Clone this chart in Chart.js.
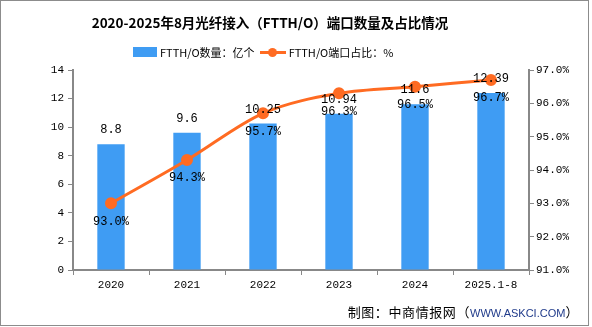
<!DOCTYPE html>
<html>
<head>
<meta charset="utf-8">
<script src="https://cdn.jsdelivr.net/npm/chart.js@4"></script>
<style>
  body { margin: 0; background: #fff; }
  #wrap { position: relative; width: 592px; height: 327px; font-family: "Noto Sans CJK SC", sans-serif; }
  #frame { position: absolute; left: 0; top: 0; width: 589px; height: 326px; box-sizing: border-box; border: 1px solid #8c8c8c; pointer-events: none; }
  #title { position: absolute; left: 0; width: 540px; top: 12px; text-align: center; font-size: 13.5px; font-weight: bold; color: #000; }
  #legend { position: absolute; left: 133px; top: 44px; display: flex; align-items: center; font-size: 11px; color: #000; }
  .box { width: 24px; height: 10px; background: #3f9cf3; margin-right: 3px; }
  .ln { position: relative; width: 26px; height: 3px; background: #ff6b22; margin: 0 3px 0 5px; }
  .ln::after { content: ""; position: absolute; left: 8px; top: -3px; width: 9px; height: 9px; border-radius: 50%; background: #ff6b22; }
  #foot { position: absolute; right: 13px; top: 302px; font-size: 13px; color: #000; letter-spacing: 0.6px; }
  #foot span { color: #1f3a8a; font-family: "Liberation Sans", sans-serif; font-size: 11px; letter-spacing: 0; }
</style>
</head>
<body>
<div id="wrap">
  <canvas id="myChart1" width="592" height="327"></canvas>
  <div id="title">2020-2025年8月光纤接入（FTTH/O）端口数量及占比情况</div>
  <div id="legend"><div class="box"></div>FTTH/O数量：亿个<div class="ln"></div>FTTH/O端口占比：%</div>
  <div id="foot">制图：中商情报网（<span>WWW.ASKCI.COM</span>）</div>
  <div id="frame"></div>
</div>
<script>
var anos = ['2020', '2021', '2022', '2023', '2024', '2025.1-8'];
var portas = [8.8, 9.6, 10.25, 10.94, 11.6, 12.39];
var percentual = [93.0, 94.3, 95.7, 96.3, 96.5, 96.7];

var fonteTick = { family: '"Liberation Mono", "Noto Sans CJK SC", monospace', size: 11 };

// desenha os rotulos dos valores
const rotulos = {
    id: 'rotulos',
    afterDatasetsDraw: function (chart) {
        var ctx = chart.ctx;
        ctx.save();
        ctx.font = '12px "Liberation Mono", monospace';
        ctx.fillStyle = '#000';
        ctx.textAlign = 'center';
        ctx.textBaseline = 'middle';
        chart.getDatasetMeta(0).data.forEach(function (el, i) {
            ctx.fillText(String(portas[i]), el.x, el.y - 14);
        });
        chart.getDatasetMeta(1).data.forEach(function (el, i) {
            ctx.fillText(percentual[i].toFixed(1) + '%', el.x, el.y + 18);
        });
        ctx.restore();
    }
};

const data = {
    labels: anos,
    datasets: [{
        type: 'bar',
        label: 'FTTH/O数量：亿个',
        data: portas,
        backgroundColor: '#3f9cf3',
        barPercentage: 0.36,
        categoryPercentage: 1,
        yAxisID: 'y',
        order: 2
    }, {
        type: 'line',
        label: 'FTTH/O端口占比：%',
        data: percentual,
        borderColor: '#ff6b22',
        backgroundColor: '#ff6b22',
        borderWidth: 3,
        pointRadius: 4.5,
        pointHoverRadius: 4.5,
        cubicInterpolationMode: 'monotone',
        yAxisID: 'y1',
        order: 1
    }]
};

const config = {
    data: data,
    plugins: [rotulos],
    options: {
        responsive: false,
        animation: false,
        layout: { padding: { top: 70, left: 0, right: 0, bottom: 0 } },
        plugins: { legend: { display: false }, tooltip: { enabled: false } },
        scales: {
            x: {
                grid: { display: true, drawOnChartArea: false, color: '#888', tickLength: 5 },
                border: { color: '#888', width: 2 },
                ticks: { font: fonteTick, color: '#000', padding: 3 },
                afterFit: function (s) { s.height = 57; }
            },
            y: {
                position: 'left',
                min: 0, max: 14,
                ticks: { stepSize: 2, font: fonteTick, color: '#000', padding: 4 },
                grid: { drawOnChartArea: false, color: '#888', tickLength: 5 },
                border: { color: '#888', width: 2 },
                afterFit: function (s) { s.width = 73; }
            },
            y1: {
                position: 'right',
                min: 91, max: 97,
                ticks: { stepSize: 1, font: fonteTick, color: '#000', padding: 2,
                    callback: function (v) { return v.toFixed(1) + '%'; } },
                grid: { drawOnChartArea: false, color: '#888', tickLength: 5 },
                border: { color: '#888', width: 2 },
                afterFit: function (s) { s.width = 63; }
            }
        }
    }
};

const myChart = new Chart(document.getElementById('myChart1'), config);
</script>
</body>
</html>
